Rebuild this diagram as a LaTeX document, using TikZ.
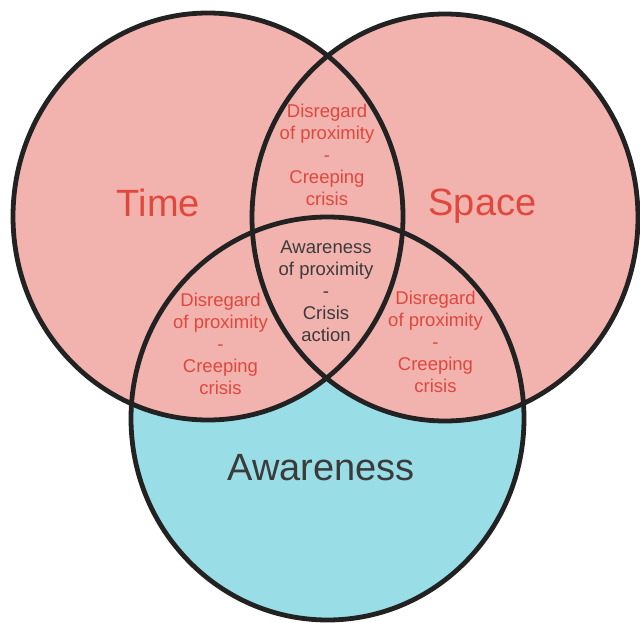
\documentclass[tikz,border=0pt]{standalone}
\usepackage{fontspec}
\setmainfont{Liberation Sans}
\definecolor{pinkfill}{HTML}{F2B3AE}
\definecolor{cyanfill}{HTML}{99DEE6}
\definecolor{redtext}{HTML}{E0473D}
\definecolor{darktext}{HTML}{3B3B3B}
\definecolor{edgecol}{HTML}{222222}
\tikzset{
  setline/.style={draw=edgecol, line width=4.8pt},
  bigred/.style={text=redtext, font=\fontsize{38}{44}\selectfont},
  bigdark/.style={text=darktext, font=\fontsize{38}{44}\selectfont},
  smallred/.style={text=redtext, align=center, font=\fontsize{18.5}{22}\selectfont},
  smalldark/.style={text=darktext, align=center, font=\fontsize{18.5}{22}\selectfont},
}
\begin{document}
\begin{tikzpicture}[x=1pt, y=-1pt]
\useasboundingbox (0,0) rectangle (640,623);
% fills
\fill[cyanfill] (327.5,418.5) ellipse [x radius=196.5pt, y radius=201.5pt];
\fill[pinkfill] (208,216.5) ellipse [x radius=195pt, y radius=203.5pt];
\fill[pinkfill] (445,217.5) ellipse [x radius=193pt, y radius=203.5pt];
% outlines
\draw[setline] (208,216.5) ellipse [x radius=195pt, y radius=203.5pt];
\draw[setline] (445,217.5) ellipse [x radius=193pt, y radius=203.5pt];
\draw[setline] (327.5,418.5) ellipse [x radius=196.5pt, y radius=201.5pt];
% labels
\node[bigred] (time) at (158.5,203) {Time};
\node[bigred] (space) at (482.5,206) {Space};
\node[bigdark] (aware) at (321,468) {Awareness};
\node[smallred] (ts) at (327,155) {Disregard\\of proximity\\-\\Creeping\\crisis};
\node[smalldark] (all) at (326,291) {Awareness\\of proximity\\-\\Crisis\\action};
\node[smallred] (ta) at (220.5,344) {Disregard\\of proximity\\-\\Creeping\\crisis};
\node[smallred] (sa) at (435.5,342) {Disregard\\of proximity\\-\\Creeping\\crisis};
\end{tikzpicture}
\end{document}
